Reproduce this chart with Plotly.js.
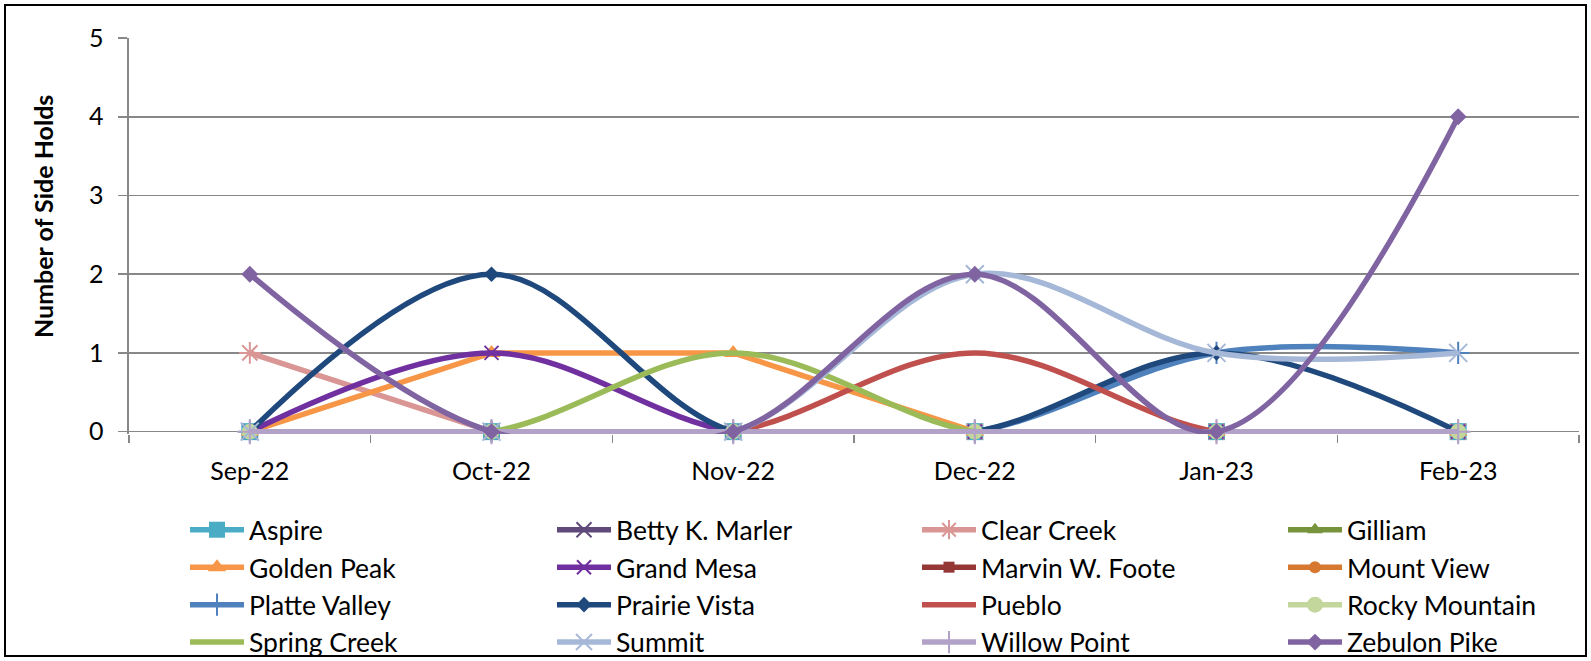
<!DOCTYPE html>
<html>
<head>
<meta charset="utf-8">
<script src="https://cdn.plot.ly/plotly-3.0.1.min.js"></script>
<style>
  html, body { margin: 0; padding: 0; background: #ffffff; }
  #chart { width: 1591px; height: 661px; }
  #frame { position: absolute; left: 4px; top: 4px; width: 1579px; height: 649px; border: 2px solid #000; pointer-events: none; }
</style>
</head>
<body>
<div id="chart"></div>
<div id="frame"></div>
<script>
// ---- data ----
const months = ['Sep-22', 'Oct-22', 'Nov-22', 'Dec-22', 'Jan-23', 'Feb-23'];

const aspire        = [0, 0, 0, 0, 0, 0];
const bettyKMarler  = [0, 0, 0, 0, 0, 0];
const clearCreek    = [1, 0, 0, 0, 0, 0];
const gilliam       = [0, 0, 0, 0, 0, 0];
const goldenPeak    = [0, 1, 1, 0, 0, 0];
const grandMesa     = [0, 1, 0, 0, 0, 0];
const marvinWFoote  = [0, 0, 0, 0, 0, 0];
const mountView     = [0, 0, 0, 0, 0, 0];
const platteValley  = [0, 0, 0, 0, 1, 1];
const prairieVista  = [0, 2, 0, 0, 1, 0];
const pueblo        = [0, 0, 0, 1, 0, 0];
const rockyMountain = [0, 0, 0, 0, 0, 0];
const springCreek   = [0, 0, 1, 0, 0, 0];
const summit        = [0, 0, 0, 2, 1, 1];
const willowPoint   = [0, 0, 0, 0, 0, 0];
const zebulonPike   = [2, 0, 0, 2, 0, 4];

const seriesNames = ['Aspire', 'Betty K. Marler', 'Clear Creek', 'Gilliam',
  'Golden Peak', 'Grand Mesa', 'Marvin W. Foote', 'Mount View',
  'Platte Valley', 'Prairie Vista', 'Pueblo', 'Rocky Mountain',
  'Spring Creek', 'Summit', 'Willow Point', 'Zebulon Pike'];
const seriesValues = [aspire, bettyKMarler, clearCreek, gilliam,
  goldenPeak, grandMesa, marvinWFoote, mountView,
  platteValley, prairieVista, pueblo, rockyMountain,
  springCreek, summit, willowPoint, zebulonPike];

const yTitle = 'Number of Side Holds';

// ---- styles ----
const seriesColors = ['#4BACC6', '#604A7B', '#D99694', '#77933C',
  '#F79646', '#7030A0', '#953735', '#D6782F',
  '#4F81BD', '#1F497D', '#C0504D', '#C3D69B',
  '#9BBB59', '#A6B8D8', '#B3A2C7', '#8064A2'];
const seriesSymbols = ['square', 'x-thin-open', 'asterisk-open', 'triangle-up',
  'triangle-up', 'x-thin-open', 'square', 'circle',
  'cross-thin-open', 'diamond', null, 'circle',
  null, 'x-thin-open', 'cross-thin-open', 'diamond'];
const markerSizes = [17, 15, 18, 14, 16, 14, 11, 12, 16, 12, 0, 16, 0, 18, 18, 13];
const smoothed = [true, true, false, true, false, true, true, true,
  true, true, true, true, true, true, true, true];

const legendIds = ['legend', 'legend2', 'legend3', 'legend4'];

const traces = seriesNames.map((name, i) => {
  const t = {
    type: 'scatter',
    name: name,
    x: months,
    y: seriesValues[i],
    mode: seriesSymbols[i] ? 'lines+markers' : 'lines',
    line: { color: seriesColors[i], width: 5.5, shape: smoothed[i] ? 'spline' : 'linear', smoothing: 1 },
    cliponaxis: false,
    legend: legendIds[i % 4]
  };
  if (seriesSymbols[i]) {
    const open = seriesSymbols[i].indexOf('open') >= 0;
    t.marker = {
      symbol: seriesSymbols[i],
      size: markerSizes[i],
      color: seriesColors[i],
      line: { color: seriesColors[i], width: open ? 2 : 0 }
    };
  }
  return t;
});

const W = 1591, H = 661;
const M = { l: 129, r: 12, t: 38, b: 227 };
const plotW = W - M.l - M.r, plotH = H - M.t - M.b;
const legendItemWidth = 54;
const legendTextPx = [249, 616, 981, 1347];
const legendTopPx = 506;

const layout = {
  width: W, height: H,
  margin: { l: M.l, r: M.r, t: M.t, b: M.b, autoexpand: false },
  paper_bgcolor: '#ffffff',
  plot_bgcolor: '#ffffff',
  font: { family: 'Lato, sans-serif', color: '#000000', size: 25 },
  showlegend: true,
  xaxis: {
    type: 'category',
    range: [-0.5, months.length - 0.5],
    showgrid: false, zeroline: false, showline: false,
    ticks: 'outside', tickson: 'boundaries', ticklen: 8, tickwidth: 1.5, tickcolor: '#888888',
    tickfont: { size: 25 },
    ticklabelstandoff: 20,
    fixedrange: true
  },
  yaxis: {
    range: [-0.03, 5],
    tick0: 0, dtick: 1,
    showgrid: true, gridcolor: '#888888', gridwidth: 1.6,
    zeroline: false,
    showline: true, linecolor: '#888888', linewidth: 1.6,
    ticks: 'outside', ticklen: 9, tickwidth: 1.6, tickcolor: '#888888',
    tickfont: { size: 25 },
    ticklabelstandoff: 10,
    fixedrange: true
  },
  annotations: [{
    text: yTitle,
    textangle: -90,
    xref: 'paper', yref: 'paper',
    x: (43 - M.l) / plotW, y: (H - M.b - 217) / plotH,
    xanchor: 'center', yanchor: 'middle',
    showarrow: false,
    font: { size: 25, weight: 'bold', color: '#000000' }
  }]
};

legendIds.forEach((id, k) => {
  layout[id] = {
    orientation: 'v',
    x: (legendTextPx[k] - legendItemWidth - 10 - M.l) / plotW,
    y: (H - M.b - legendTopPx) / plotH,
    xanchor: 'left', yanchor: 'top',
    itemwidth: legendItemWidth,
    font: { size: 26.5 },
    bgcolor: 'rgba(0,0,0,0)',
    borderwidth: 0,
    traceorder: 'normal',
    tracegroupgap: 0
  };
});

Plotly.newPlot('chart', traces, layout, { displayModeBar: false, staticPlot: true });
</script>
</body>
</html>
